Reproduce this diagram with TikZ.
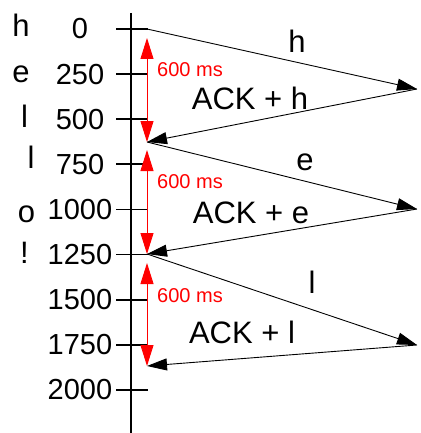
\documentclass[tikz,border=0pt]{standalone}
\usepackage{fontspec}
\setmainfont{Liberation Sans}
\usetikzlibrary{arrows.meta}

\tikzset{
    big/.style={font=\fontsize{31}{31}\selectfont, inner sep=0pt, anchor=base},
    num/.style={font=\fontsize{29}{29}\selectfont, inner sep=0pt},
    msg/.style={line width=0.9pt, -{Triangle[length=20pt, width=12pt]}},
    gap/.style={red, line width=0.9pt, {Triangle[length=21pt, width=13pt]}-{Triangle[length=21pt, width=13pt]}},
    gaplabel/.style={red, font=\fontsize{20}{20}\selectfont, inner sep=0pt, anchor=base west}
}

\begin{document}
\begin{tikzpicture}[x=1pt, y=-1pt]
    \useasboundingbox (0,0) rectangle (420,433);

    % time axis with ticks every 250 ms
    \draw[line width=2pt] (131,13) -- (131,433);
    \foreach \i/\t in {0/0, 1/250, 2/500, 3/750, 4/1000, 5/1250, 6/1500, 7/1750, 8/2000} {
        \draw[line width=1.8pt] (116, 29+45.1*\i) -- (148, 29+45.1*\i);
        \node[num] (t\i) at (80, 29+45.1*\i) {\t};
    }

    % characters typed
    \foreach \c/\x/\y in {h/21/37, e/21/83, l/24.5/127, l/31/168, o/26.5/222, !/24.5/263}
        \node[big] (k\y) at (\x,\y) {\c};

    % send and receive points
    \coordinate (s1) at (147,29);
    \coordinate (r1) at (417,89);
    \coordinate (s2) at (147,142);
    \coordinate (r2) at (417,209);
    \coordinate (s3) at (147,254);
    \coordinate (r3) at (417,345);
    \coordinate (s4) at (147,366);

    \draw[msg] (s1) -- (r1);
    \draw[msg] (r1) -- (s2);
    \draw[msg] (s2) -- (r2);
    \draw[msg] (r2) -- (s3);
    \draw[msg] (s3) -- (r3);
    \draw[msg] (r3) -- (s4);

    \node[big] (h) at (297,53) {h};
    \node[big] (ackh) at (250,110) {ACK + h};
    \node[big] (e) at (305,170) {e};
    \node[big] (acke) at (251,223) {ACK + e};
    \node[big] (l) at (312,293) {l};
    \node[big] (ackl) at (242,343) {ACK + l};

    % 600 ms round trips
    \draw[gap] ([yshift=-9pt]s1) -- (s2);
    \draw[gap] ([yshift=-8pt]s2) -- (s3);
    \draw[gap] ([yshift=-9pt]s3) -- (s4);
    \node[gaplabel] (g1) at (157,77) {600 ms};
    \node[gaplabel] (g2) at (157,188) {600 ms};
    \node[gaplabel] (g3) at (157,302) {600 ms};
\end{tikzpicture}
\end{document}
